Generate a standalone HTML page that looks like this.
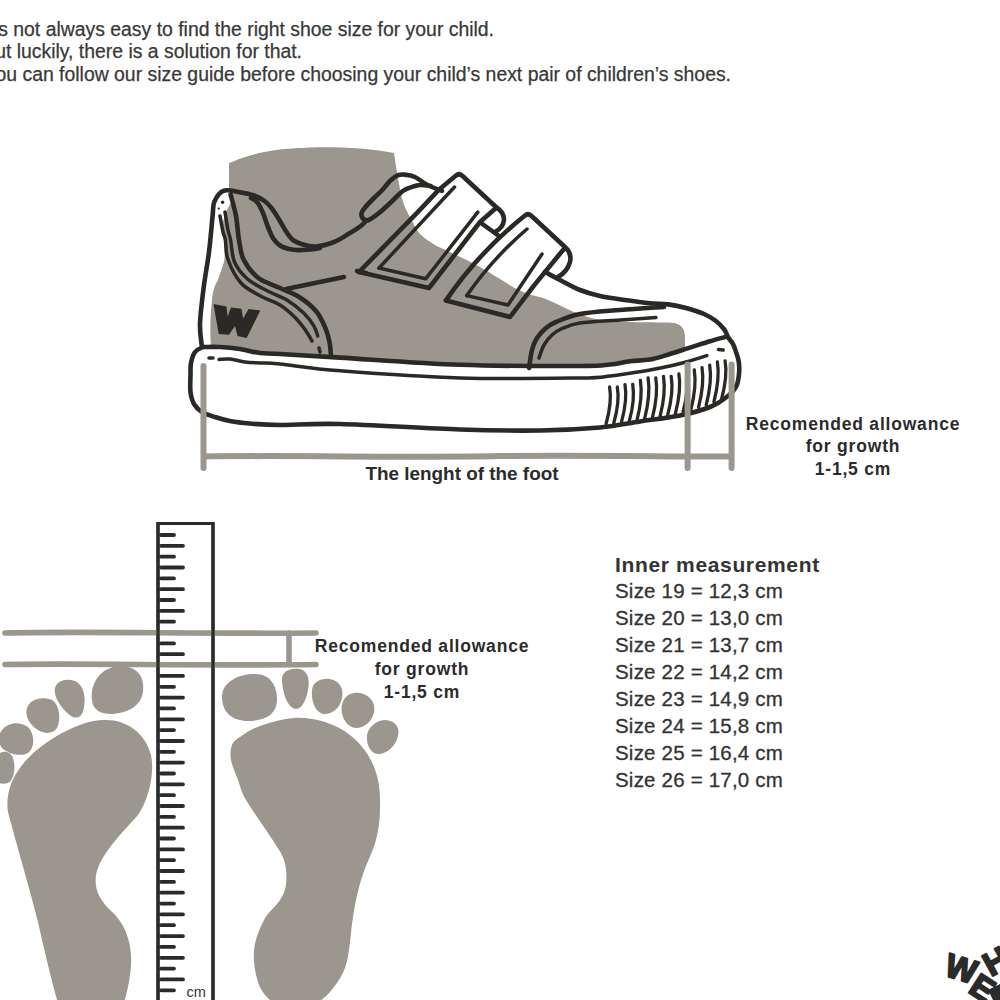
<!DOCTYPE html>
<html><head><meta charset="utf-8">
<style>
html,body{margin:0;padding:0;background:#fff;width:1000px;height:1000px;overflow:hidden}
svg{position:absolute;left:0;top:0}
text{font-family:"Liberation Sans",sans-serif}
</style></head>
<body>
<svg width="1000" height="1000" viewBox="0 0 1000 1000">
<!-- intro text -->
<g fill="#383838" stroke="#383838" stroke-width="0.25" font-size="19.4" text-anchor="end">
<text x="494" y="35.5">It’s not always easy to find the right shoe size for your child.</text>
<text x="302" y="58">But luckily, there is a solution for that.</text>
<text x="731" y="81">You can follow our size guide before choosing your child’s next pair of children’s shoes.</text>
</g>

<!-- ===== SHOE ===== -->
<path fill="#9b968e" d="M229.0,163.0C232.5,161.8 242.2,157.7 250.0,155.5C257.8,153.3 266.0,151.3 276.0,150.0C286.0,148.7 299.3,147.9 310.0,147.5C320.7,147.1 330.0,147.2 340.0,147.5C350.0,147.8 361.0,148.6 370.0,149.5C379.0,150.4 390.0,152.4 394.0,153.0 L394.0,153.0C394.7,157.2 396.5,169.8 398.0,178.0C399.5,186.2 400.8,195.2 403.0,202.0C405.2,208.8 408.2,213.7 411.0,219.0C413.8,224.3 416.0,229.7 420.0,234.0C424.0,238.3 430.0,242.0 435.0,245.0C440.0,248.0 442.5,248.3 450.0,252.0C457.5,255.7 468.3,260.6 480.0,267.0C491.7,273.4 508.8,285.2 520.0,290.6C531.2,296.0 538.0,296.0 547.0,299.6C556.0,303.2 565.2,308.6 574.0,312.0C582.8,315.4 590.7,318.3 600.0,320.0C609.3,321.7 618.0,321.6 630.0,322.0C642.0,322.4 665.0,322.4 672.0,322.5 Q685,324 685,336 L685,368 L211,368 L211,346 C210,333 210,320 212,300 C213,290 215,285 217.5,281 C220,273 224,265 224.5,258.6 C225,250 223,235 223,225 C223,215 230,205 233,198 L229,191 Z"/>
<path fill="#fff" d="M724.4,329.6C725.0,330.8 726.6,334.6 728.0,337.0C729.4,339.4 731.7,341.5 733.0,344.0C734.3,346.5 735.0,349.0 736.0,352.0C737.0,355.0 738.3,358.3 738.8,362.0C739.3,365.7 739.4,370.0 739.0,374.0C738.6,378.0 738.2,382.3 736.4,386.0C734.6,389.7 732.4,392.5 728.0,396.0C723.6,399.5 718.0,403.8 710.0,407.0C702.0,410.2 691.7,413.1 680.0,415.5C668.3,417.9 653.3,419.5 640.0,421.5C626.7,423.5 616.7,426.0 600.0,427.5C583.3,429.0 563.3,430.2 540.0,430.5C516.7,430.8 493.3,430.6 460.0,429.5C426.7,428.4 370.0,424.8 340.0,424.0C310.0,423.2 295.0,425.1 280.0,425.0C265.0,424.9 258.3,424.2 250.0,423.5C241.7,422.8 235.8,422.1 230.0,421.0C224.2,419.9 219.7,418.5 215.0,417.0C210.3,415.5 205.5,414.2 202.0,412.0C198.5,409.8 195.9,407.3 194.0,404.0C192.1,400.7 191.1,396.8 190.5,392.0C189.9,387.2 190.4,379.8 190.5,375.0C190.6,370.2 190.2,366.8 191.0,363.0C191.8,359.2 193.0,354.7 195.0,352.0C197.0,349.3 201.7,347.8 203.0,347.0 L203.0,347.0C205.8,347.0 213.8,346.7 220.0,347.0C226.2,347.3 233.3,348.0 240.0,349.0C246.7,350.0 253.3,352.2 260.0,353.0C266.7,353.8 266.7,353.2 280.0,354.0C293.3,354.8 310.0,355.8 340.0,357.6C370.0,359.4 420.0,363.4 460.0,364.8C500.0,366.2 555.0,366.1 580.0,366.0C605.0,365.9 601.7,365.3 610.0,364.5C618.3,363.7 623.3,362.0 630.0,361.2C636.7,360.4 643.3,360.8 650.0,359.6C656.7,358.4 663.3,356.0 670.0,354.0C676.7,352.0 683.3,349.7 690.0,347.6C696.7,345.5 703.8,343.1 710.0,341.2C716.2,339.3 724.2,337.3 727.0,336.5 Z"/>
<path fill="#fff" d="M640,302 C660,303 690,307 705,314 C718,320 726,330 732,345 L685,365 L685,336 Q685,324 672,322.5 L640,318 Z"/>
<g stroke="#2b2926" stroke-width="4.6" stroke-linecap="round" stroke-linejoin="round" fill="none">
  <path d="M201.8,346.0C201.5,342.3 199.7,333.7 200.0,324.0C200.3,314.3 202.1,300.0 203.6,288.0C205.1,276.0 207.5,264.0 209.0,252.0C210.5,240.0 211.7,224.4 212.6,216.0C213.5,207.6 212.6,205.8 214.4,201.6C216.2,197.4 219.1,192.4 223.4,190.8C227.7,189.2 234.9,191.4 240.0,192.2C245.1,193.0 249.9,194.0 254.0,195.5C258.1,197.0 261.6,198.9 264.5,201.0C267.4,203.1 269.2,205.1 271.5,208.0C273.8,210.9 276.2,214.8 278.5,218.6C280.8,222.3 283.2,227.0 285.5,230.5C287.8,234.0 289.6,237.3 292.5,239.6C295.4,241.9 299.1,243.3 303.0,244.5C306.9,245.7 310.8,246.9 316.0,246.5C321.2,246.1 328.3,244.2 334.0,242.0C339.7,239.8 345.5,235.7 350.0,233.0C354.5,230.3 358.5,227.6 361.0,225.8C363.5,224.0 364.3,222.6 365.0,222.0"/>
  <path d="M251.0,198.0C252.1,198.8 255.5,200.0 257.5,202.5C259.5,205.0 261.2,208.9 263.0,213.0C264.8,217.1 266.2,222.7 268.0,227.0C269.8,231.3 271.3,235.7 273.6,239.0C275.9,242.3 278.3,244.8 282.0,246.6C285.7,248.4 291.3,249.5 296.0,250.0C300.7,250.5 306.0,249.7 310.0,249.4C314.0,249.1 318.3,248.2 320.0,248.0"/>
  <path d="M230.6,194.4C231.5,198.0 234.6,208.4 236.0,216.0C237.4,223.6 237.7,232.8 239.0,240.0C240.3,247.2 240.4,253.2 243.6,259.5C246.8,265.8 251.9,272.9 258.0,277.7C264.1,282.4 273.1,284.8 280.0,288.0C286.9,291.2 293.4,293.3 299.5,297.2C305.6,301.1 312.1,306.3 316.4,311.5C320.7,316.7 323.3,323.3 325.5,328.4C327.7,333.5 328.6,337.4 329.5,342.0C330.4,346.6 330.8,353.7 331.0,356.0"/>
  <path d="M286,289 C305,285 325,281 344,277"/>
  <path d="M357,271 L366,273"/>
  <path d="M430.8,186.0C429.2,185.8 423.6,185.0 421.0,185.0C418.4,185.0 418.0,185.0 415.0,186.0C412.0,187.0 407.0,188.1 403.0,190.8C399.0,193.5 395.0,198.5 391.0,202.2C387.0,205.9 382.8,210.0 379.0,213.0C375.2,216.0 370.9,219.3 368.2,220.2C365.5,221.1 364.1,219.6 363.0,218.5C361.9,217.4 361.1,215.4 361.5,213.5C361.9,211.6 363.4,209.6 365.5,207.0C367.6,204.4 371.2,200.8 374.0,198.0C376.8,195.2 379.2,193.2 382.0,190.2C384.8,187.2 388.3,182.5 391.0,180.0C393.7,177.5 395.9,176.1 398.2,175.2C400.5,174.3 402.0,174.3 404.8,174.6C407.6,174.9 411.6,175.5 415.0,177.0C418.4,178.5 422.4,182.1 425.2,183.8C428.0,185.5 429.2,185.8 432.0,187.0C434.8,188.2 440.3,190.2 442.0,190.8"/>
  <path d="M359,272 L416.8,213.2 L439.2,189.4 L456,175.5 Q459,173 462,175.5 L496,207 Q504,212 504,220 Q503,228 495,232"/>
  <path d="M496,208 L480,222 L429,288 L359,272"/>
  <path d="M481,223 L499,236"/>
  <path d="M446,300.4 Q478,253 525,215.5 Q528,213 531,215.5 L565,247 Q572,253 570,262 Q567,272 558,277"/>
  <path d="M564,249 Q535,283 510,317 L446,300.4"/>
  <path d="M545.0,272.0C547.5,273.3 554.2,277.0 560.0,280.0C565.8,283.0 573.3,287.3 580.0,290.0C586.7,292.7 592.5,294.3 600.0,296.0C607.5,297.7 616.7,298.8 625.0,300.0C633.3,301.2 642.8,302.5 650.0,303.2C657.2,303.9 662.0,303.6 668.0,304.4C674.0,305.2 680.0,306.4 686.0,308.0C692.0,309.6 699.0,311.8 704.0,314.0C709.0,316.2 712.6,318.4 716.0,321.0C719.4,323.6 722.4,326.9 724.4,329.6C726.4,332.3 726.6,334.6 728.0,337.0C729.4,339.4 731.7,341.5 733.0,344.0C734.3,346.5 735.0,349.0 736.0,352.0C737.0,355.0 738.3,358.3 738.8,362.0C739.3,365.7 739.4,370.0 739.0,374.0C738.6,378.0 738.2,382.3 736.4,386.0C734.6,389.7 732.4,392.5 728.0,396.0C723.6,399.5 718.0,403.8 710.0,407.0C702.0,410.2 691.7,413.1 680.0,415.5C668.3,417.9 653.3,419.5 640.0,421.5C626.7,423.5 616.7,426.0 600.0,427.5C583.3,429.0 563.3,430.2 540.0,430.5C516.7,430.8 493.3,430.6 460.0,429.5C426.7,428.4 370.0,424.8 340.0,424.0C310.0,423.2 295.0,425.1 280.0,425.0C265.0,424.9 258.3,424.2 250.0,423.5C241.7,422.8 235.8,422.1 230.0,421.0C224.2,419.9 219.7,418.5 215.0,417.0C210.3,415.5 205.5,414.2 202.0,412.0C198.5,409.8 195.9,407.3 194.0,404.0C192.1,400.7 191.1,396.8 190.5,392.0C189.9,387.2 190.4,379.8 190.5,375.0C190.6,370.2 190.2,366.8 191.0,363.0C191.8,359.2 193.0,354.7 195.0,352.0C197.0,349.3 201.7,347.8 203.0,347.0"/>
  <path d="M529.0,368.0C529.5,365.0 530.7,355.0 532.0,350.0C533.3,345.0 534.7,341.7 537.0,338.0C539.3,334.3 542.8,330.7 546.0,328.0C549.2,325.3 550.3,324.3 556.0,322.0C561.7,319.7 569.3,316.0 580.0,314.0C590.7,312.0 606.0,311.2 620.0,310.0C634.0,308.8 656.7,307.5 664.0,307.0"/>
  <path d="M203.0,347.0C205.8,347.0 213.8,346.7 220.0,347.0C226.2,347.3 233.3,348.0 240.0,349.0C246.7,350.0 253.3,352.2 260.0,353.0C266.7,353.8 266.7,353.2 280.0,354.0C293.3,354.8 310.0,355.8 340.0,357.6C370.0,359.4 420.0,363.4 460.0,364.8C500.0,366.2 555.0,366.1 580.0,366.0C605.0,365.9 601.7,365.3 610.0,364.5C618.3,363.7 623.3,362.0 630.0,361.2C636.7,360.4 643.3,360.8 650.0,359.6C656.7,358.4 663.3,356.0 670.0,354.0C676.7,352.0 683.3,349.7 690.0,347.6C696.7,345.5 703.8,343.1 710.0,341.2C716.2,339.3 724.2,337.3 727.0,336.5"/>
</g>
<g stroke="#2b2926" stroke-width="3.5" stroke-linecap="round" stroke-linejoin="round" fill="none">
  <path d="M225.0,212.0C225.5,215.0 227.1,225.3 228.0,230.0C228.9,234.7 229.5,234.7 230.6,240.0C231.7,245.3 231.7,255.5 234.5,262.0C237.3,268.5 242.1,274.2 247.5,279.0C252.9,283.8 260.5,287.2 267.0,290.7C273.5,294.2 280.4,296.1 286.5,299.8C292.6,303.5 298.8,308.5 303.4,312.8C307.9,317.1 311.4,321.9 313.8,325.8C316.2,329.7 317.1,334.3 317.7,336.0"/>
  <path d="M220.0,216.0C220.5,218.7 222.1,228.0 223.0,232.0C223.9,236.0 224.6,235.4 225.4,240.0C226.2,244.6 225.4,252.3 228.0,259.5C230.6,266.7 235.6,276.9 241.0,283.0C246.4,289.1 254.0,292.3 260.5,296.0C267.0,299.7 274.1,301.3 280.0,305.0C285.9,308.7 291.3,313.7 295.6,318.0C299.9,322.3 303.3,327.2 306.0,331.0C308.7,334.8 311.0,339.3 312.0,341.0"/>
  <path d="M319,348 L320,352"/>
  <path d="M379,268 L454.5,187"/>
  <path d="M477.8,212.2 L425.6,278.8 L379,268"/>
  <path d="M466.8,295.6 Q492,259 527,229"/>
  <path d="M542,254 L508,305 L466.8,295.6"/>
  <path d="M539.0,358.0C539.8,355.8 541.8,348.8 544.0,345.0C546.2,341.2 549.2,337.7 552.0,335.0C554.8,332.3 556.3,331.0 561.0,329.0C565.7,327.0 570.2,324.5 580.0,323.0C589.8,321.5 607.3,320.9 620.0,320.0C632.7,319.1 650.0,318.0 656.0,317.6"/>
  <path d="M219.0,359.5C220.8,359.4 225.7,358.6 230.0,359.0C234.3,359.4 240.0,361.3 245.0,362.0C250.0,362.7 254.2,362.7 260.0,363.0C265.8,363.3 266.7,362.7 280.0,364.0C293.3,365.3 310.0,368.5 340.0,370.8C370.0,373.1 420.0,376.8 460.0,378.0C500.0,379.2 555.0,378.3 580.0,378.0C605.0,377.7 601.7,376.8 610.0,376.0C618.3,375.2 623.3,374.2 630.0,373.2C636.7,372.2 643.3,371.2 650.0,370.0C656.7,368.8 664.0,367.3 670.0,366.0C676.0,364.7 679.9,363.7 686.0,362.0C692.1,360.3 703.3,356.7 706.8,355.6"/>
  <path d="M209,358 L213,358"/>
  <path d="M718.4,349.4 L723.2,350"/>
  <path stroke-width="3.3" d="M609.6,387.0Q612.2,401.7 606.1,423.8M617.3,387.0Q619.9,401.4 613.8,423.0M625.0,384.6Q627.6,399.6 621.5,422.0M632.7,384.4Q635.3,399.2 629.2,421.4M640.4,380.4Q643.0,396.5 636.9,420.6M648.1,378.0Q650.7,394.4 644.6,419.0M655.8,378.0Q658.4,394.1 652.3,418.2M663.5,376.4Q666.1,392.5 660.0,416.6M671.2,376.4Q673.8,391.8 667.7,415.0M678.9,374.0Q681.5,389.8 675.4,413.5M686.6,372.0Q689.2,388.0 683.1,412.0M694.3,370.0Q696.9,386.0 690.8,410.0M702.0,367.6Q704.6,383.6 698.5,407.5M709.7,365.2Q712.3,381.1 706.2,405.0M717.4,362.0Q720.0,378.0 713.9,402.0M725.1,360.8Q727.7,376.1 721.6,399.0"/>
</g>
<circle cx="222.6" cy="202.2" r="1.7" fill="#2b2926"/>
<circle cx="218.8" cy="208.6" r="1.1" fill="#2b2926"/>
<path fill="#2b2926" d="M213.5,304 L226.5,306.4 L227.6,316.5 L231,307.4 L241.4,308.7 L243.2,318.5 L248.6,309 L260.3,310.6 L246.6,338 L237.5,336 L235,326 L229,334.7 L218.7,334 Z"/>
<g stroke="#9b968e" stroke-width="6" stroke-linecap="round" fill="none">
  <path d="M203.5,366 L203.5,468"/>
  <path d="M204,456.5 C300,455 400,458 500,456 C600,455 680,457 731,456.5"/>
  <path d="M687.6,364.4 L687.6,468"/>
  <path d="M731.6,364.4 L731.6,468"/>
</g>
<g fill="#2b2b2b" font-weight="700" text-anchor="middle">
  <text x="462" y="480" font-size="18.9">The lenght of the foot</text>
  <g font-size="17.5" letter-spacing="0.8">
    <text x="853" y="430">Recomended allowance</text>
    <text x="853" y="452">for growth</text>
    <text x="853" y="475">1-1,5 cm</text>
  </g>
</g>

<!-- ===== RULER ===== -->
<g stroke="#2b2b2b" fill="none">
  <path d="M158,1005 V523.5 H213 V1005" stroke-width="3.2"/>
  <path stroke-width="3.8" stroke-linecap="round" d="M161,535.0H174M161,545.8H183M161,556.7H174M161,567.5H183M161,578.4H174M161,589.2H183M161,600.0H174M161,610.9H183M161,621.7H174M161,632.6H183M161,643.4H174M161,654.2H183M161,665.1H174M161,675.9H183M161,686.8H174M161,697.6H183M161,708.4H174M161,719.3H183M161,730.1H174M161,741.0H183M161,751.8H174M161,762.6H183M161,773.5H174M161,784.3H183M161,795.2H174M161,806.0H183M161,816.8H174M161,827.7H183M161,838.5H174M161,849.4H183M161,860.2H174M161,871.0H183M161,881.9H174M161,892.7H183M161,903.6H174M161,914.4H183M161,925.2H174M161,936.1H183M161,946.9H174M161,957.8H183M161,968.6H174M161,979.4H183M161,990.3H174"/>
</g>
<text x="186.5" y="997" font-size="14.5" fill="#333">cm</text>

<!-- ===== FEET ===== -->
<g fill="#9b968e">
  <!-- left foot toes -->
  <path d="M92,700 C90,684 100,667 120,666 C138,666 145,678 143,692 C141,706 128,713 112,714 C100,714 93,710 92,700 Z"/>
  <path d="M55,688 C57,680 67,678 75,681 C83,685 86,695 84,707 C83,716 78,719 73,717 C64,712 53,698 55,688 Z"/>
  <path d="M27,708 C30,699 42,696 52,700 C60,705 61,720 57,728 C52,735 42,734 35,728 C28,722 25,715 27,708 Z"/>
  <path d="M2,730 C8,722 20,721 28,727 C35,734 35,748 28,753 C20,757 10,754 3,749 C-3,743 -2,735 2,730 Z"/>
  <path d="M-4,756 C2,750 10,750 13,758 C16,768 14,780 8,783 C2,785 -4,783 -6,778 Z"/>
  <!-- left sole -->
  <path d="M104,720 C125,719 145,732 151,755 C155,775 148,800 138,815 C120,835 100,855 96,875 C94,890 100,900 110,910 C128,925 134,950 130,975 C128,990 124,1005 120,1010 L60,1010 C54,990 46,958 38,922 C30,890 18,850 8,812 C6,800 9,785 16,774 C26,757 42,744 64,732 C78,725 90,720 104,720 Z"/>
  <!-- right foot toes -->
  <path d="M222,697 C222,682 238,674 255,674 C270,674 277,685 277,700 C277,714 265,721 248,721 C232,721 222,712 222,697 Z"/>
  <path d="M282,678 C283,670 292,668 300,669 C308,671 310,680 308,690 C306,700 302,709 296,709 C289,709 282,695 282,678 Z"/>
  <path d="M312,690 C313,681 322,678 330,679 C340,681 344,689 342,698 C340,708 333,714 324,714 C315,713 311,700 312,690 Z"/>
  <path d="M342,705 C344,695 352,692 360,693 C370,695 376,703 374,712 C372,722 364,728 356,728 C346,727 340,715 342,705 Z"/>
  <path d="M367,735 C369,726 377,720 386,720 C396,721 400,728 398,736 C396,745 388,753 380,754 C371,755 366,745 367,735 Z"/>
  <!-- right sole -->
  <path d="M294.0,718.0C304.8,717.3 315.7,719.2 325.0,722.0C334.3,724.8 342.8,729.5 350.0,735.0C357.2,740.5 363.3,747.5 368.0,755.0C372.7,762.5 376.0,770.8 378.0,780.0C380.0,789.2 380.3,800.0 380.0,810.0C379.7,820.0 378.8,829.3 376.0,840.0C373.2,850.7 366.3,864.0 363.0,874.0C359.7,884.0 357.8,891.7 356.0,900.0C354.2,908.3 353.1,916.3 352.0,924.0C350.9,931.7 350.7,938.7 349.5,946.0C348.3,953.3 347.6,961.2 345.0,968.0C342.4,974.8 338.5,981.3 334.0,987.0C329.5,992.7 325.3,998.2 318.0,1002.0C310.7,1005.8 298.0,1010.3 290.0,1010.0C282.0,1009.7 275.3,1004.7 270.0,1000.0C264.7,995.3 260.7,990.3 258.0,982.0C255.3,973.7 253.0,960.3 254.0,950.0C255.0,939.7 259.7,928.3 264.0,920.0C268.3,911.7 276.3,906.0 280.0,900.0C283.7,894.0 285.3,890.7 286.0,884.0C286.7,877.3 286.7,868.0 284.0,860.0C281.3,852.0 276.3,846.0 270.0,836.0C263.7,826.0 251.3,809.3 246.0,800.0C240.7,790.7 240.5,786.7 238.0,780.0C235.5,773.3 232.0,765.8 231.0,760.0C230.0,754.2 230.5,748.8 232.0,745.0C233.5,741.2 235.3,740.2 240.0,737.0C244.7,733.8 251.0,729.2 260.0,726.0C269.0,722.8 283.2,718.7 294.0,718.0Z"/>
</g>
<!-- feet measure lines -->
<g stroke="#9b968e" stroke-width="5.6" stroke-linecap="round" fill="none">
  <path d="M5,633 C80,631 200,634 316,633"/>
  <path d="M5,664.5 C80,663 200,666 316,664.5"/>
  <path d="M289,633 L289,664"/>
</g>
<path d="M158,1005 V523.5 H213 V1005" stroke="#2b2b2b" stroke-width="3.2" fill="none"/>
<g fill="#2b2b2b" font-weight="700" text-anchor="middle" font-size="17.5" letter-spacing="0.8">
  <text x="422" y="652">Recomended allowance</text>
  <text x="422" y="675">for growth</text>
  <text x="422" y="697.5">1-1,5 cm</text>
</g>

<!-- ===== SIZE TABLE ===== -->
<g fill="#333">
  <text x="615" y="572" font-size="21" font-weight="700" letter-spacing="0.65">Inner measurement</text>
  <g font-size="20.5" letter-spacing="0.2" stroke="#333" stroke-width="0.3">
    <text x="615" y="598.3">Size 19 = 12,3 cm</text>
    <text x="615" y="625.2">Size 20 = 13,0 cm</text>
    <text x="615" y="652.1">Size 21 = 13,7 cm</text>
    <text x="615" y="679.0">Size 22 = 14,2 cm</text>
    <text x="615" y="705.9">Size 23 = 14,9 cm</text>
    <text x="615" y="732.8">Size 24 = 15,8 cm</text>
    <text x="615" y="759.6">Size 25 = 16,4 cm</text>
    <text x="615" y="786.5">Size 26 = 17,0 cm</text>
  </g>
</g>

<!-- ===== LOGO ===== -->
<g fill="#2b2b2b" stroke="#2b2b2b" stroke-width="2" stroke-linejoin="round" font-weight="700" font-size="33">
  <text transform="translate(943,975) rotate(17)">W</text>
  <text transform="translate(991,977) rotate(-29)">H</text>
  <text transform="translate(967,991.5) rotate(33)">E</text>
</g>
<path fill="#2b2b2b" d="M988,990 L1000,984 L1000,1000 L993,1000 Z"/>
</svg>
</body></html>
